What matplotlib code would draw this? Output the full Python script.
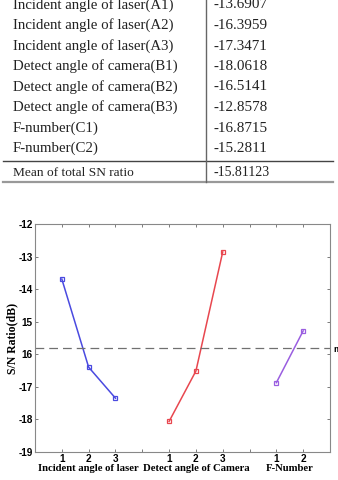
import numpy as np
import matplotlib
matplotlib.use("Agg")
import matplotlib.pyplot as plt

# table data
factor_names = [
    "Incident angle of laser(A1)",
    "Incident angle of laser(A2)",
    "Incident angle of laser(A3)",
    "Detect angle of camera(B1)",
    "Detect angle of camera(B2)",
    "Detect angle of camera(B3)",
    "F-number(C1)",
    "F-number(C2)",
]
sn_values = ["-13.6907", "-16.3959", "-17.3471", "-18.0618",
             "-16.5141", "-12.8578", "-16.8715", "-15.2811"]
mean_label = "Mean of total SN ratio"
mean_value = -15.81123

# chart data
laser_x = [1, 2, 3]
laser_sn = [-13.6907, -16.3959, -17.3471]
camera_x = [5, 6, 7]
camera_sn = [-18.0618, -16.5141, -12.8578]
fnum_x = [9, 10]
fnum_sn = [-16.8715, -15.2811]

x_ticks = list(range(1, 11))
x_ticklabels = ["1", "2", "3", "", "1", "2", "3", "", "1", "2"]
y_ticks = [-19, -18, -17, -16, -15, -14, -13, -12]
y_ticklabels = ["-19", "-18", "-17", "16", "15", "-14", "-13", "-12"]
group_names = ["Incident angle of laser", "Detect angle of Camera", "F-Number"]
group_centers = [2, 6, 9.5]

W, H = 338, 480
fig = plt.figure(figsize=(W / 100, H / 100), dpi=100)
serif = ["Liberation Serif", "DejaVu Serif"]


def fx(px):
    return px / W


def fy(py):
    return 1 - py / H


# ---- table ----
row_y = [5, 25.5, 46, 66.5, 87, 107.5, 128, 148.5]
for name, val, y in zip(factor_names, sn_values, row_y):
    fig.text(fx(13), fy(y), name, family=serif, fontsize=10.7,
             va="center", ha="left", color="#222222")
    fig.text(fx(213), fy(y), val, family=serif, fontsize=10.9,
             va="center", ha="left", color="#222222")
fig.text(fx(13), fy(173), mean_label, family=serif, fontsize=9.6,
         va="center", ha="left", color="#222222")
fig.text(fx(213), fy(173), f"{mean_value:.5f}", family=serif, fontsize=10,
         va="center", ha="left", color="#222222")

fig.add_artist(plt.Line2D([fx(3), fx(333)], [fy(161), fy(161)],
                          color="#444444", lw=1.0))
fig.add_artist(plt.Line2D([fx(3), fx(333)], [fy(182), fy(182)],
                          color="#999999", lw=1.6))
fig.add_artist(plt.Line2D([fx(206), fx(206)], [fy(0), fy(182)],
                          color="#666666", lw=1.0))

# ---- chart ----
ax = fig.add_axes([fx(35), fy(452), fx(330) - fx(35), fy(224) - fy(452)])
mk = dict(marker="s", markersize=2.8, markerfacecolor="none", markeredgewidth=0.9)
ax.plot(laser_x, laser_sn, color="#4a4ae0", lw=1.1, **mk)
ax.plot(camera_x, camera_sn, color="#e8474f", lw=1.1, **mk)
ax.plot(fnum_x, fnum_sn, color="#9a5ee0", lw=1.1, **mk)
ax.axhline(mean_value, color="#707070", lw=0.9, dashes=(7, 4))

ax.set_xlim(0, 11)
ax.set_ylim(-19, -12)
ax.set_xticks(x_ticks)
ax.set_xticklabels(x_ticklabels)
ax.set_yticks(y_ticks)
ax.set_yticklabels(y_ticklabels)
ax.tick_params(direction="in", length=2.5, width=0.6, color="#666666",
               top=True, right=True, labelsize=7.2)
ax.tick_params(axis="x", pad=1.2)
ax.tick_params(axis="y", pad=1.5)
for lab in ax.get_xticklabels() + ax.get_yticklabels():
    lab.set_fontweight("bold")
    lab.set_family(["Liberation Sans", "DejaVu Sans"])
for sp in ax.spines.values():
    sp.set_color("#888888")
    sp.set_linewidth(0.8)

for name, c in zip(group_names, group_centers):
    ax.text(c, -19.5, name, ha="center", va="center", family=serif,
            fontweight="bold", fontsize=7.7)
ax.set_ylabel("S/N Ratio(dB)", family=serif, fontweight="bold", fontsize=8.5)
ax.yaxis.set_label_coords(-0.058, 0.5)
fig.text(fx(333), fy(349), "mean", family=["Liberation Sans"], fontsize=6.5,
         fontweight="bold", va="center", ha="left")

fig.savefig("out.png", dpi=100)
